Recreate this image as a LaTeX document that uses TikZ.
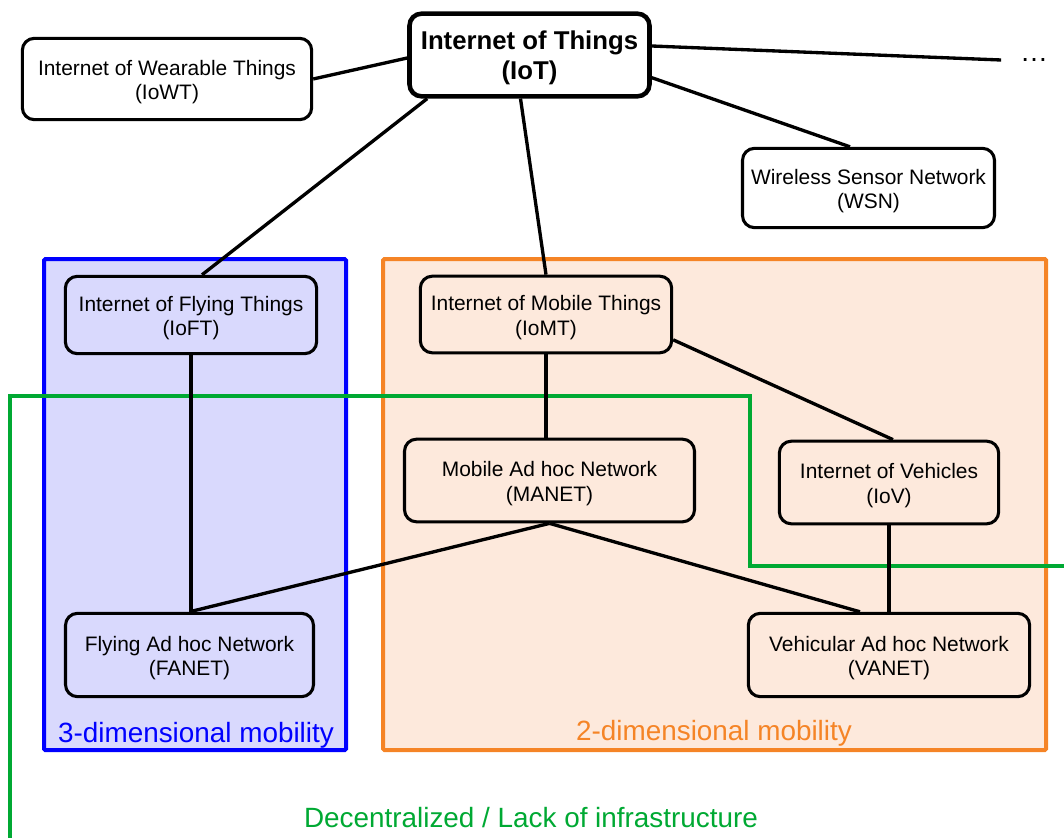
\documentclass[tikz,border=0pt]{standalone}
\usepackage{fontspec}
\setmainfont{Liberation Sans}
\definecolor{flyblue}{RGB}{0,0,255}
\definecolor{flyfill}{RGB}{217,217,253}
\definecolor{mobileorange}{RGB}{245,132,38}
\definecolor{mobilefill}{RGB}{253,233,220}
\definecolor{adhocgreen}{RGB}{0,169,51}
\tikzset{
    net/.style={draw,line width=2.3pt,rounded corners=9pt,align=center,
        font=\fontsize{15.7}{18.5}\selectfont,
        execute at begin node={\rule{0pt}{34.5pt}}},
    link/.style={line width=2.5pt},
    region/.style={font=\fontsize{20.9}{24}\selectfont}
}
\begin{document}
\begin{tikzpicture}[x=0.75pt,y=-0.75pt]
    \useasboundingbox (0,0) rectangle (1064,838);
    \draw[flyblue,fill=flyfill,line width=3pt,rounded corners=1pt] (44,259) rectangle (346,750);
    \draw[mobileorange,fill=mobilefill,line width=3pt,rounded corners=1pt] (383,259) rectangle (1046,750);
    \node[region,text=flyblue] (threed) at (196,735) {3-dimensional mobility};
    \node[region,text=mobileorange] (twod) at (714,733) {2-dimensional mobility};
    \node[region,text=adhocgreen] (decentral) at (531,818) {Decentralized / Lack of infrastructure};
    \draw[adhocgreen,line width=2.3pt] (10,838) |- (750,396) |- (1064,566);

    \node[net,line width=3.4pt,minimum width=180pt,minimum height=62pt,
        font=\fontsize{19.3}{22}\selectfont\bfseries,
        execute at begin node={\rule{0pt}{40.5pt}}] (iot) at (529.5,55) {Internet of Things\\(IoT)};
    \node[net,minimum width=217pt,minimum height=61pt] (iowt) at (167,79) {Internet of Wearable Things\\(IoWT)};
    \node[net,minimum width=189pt,minimum height=59.5pt] (wsn) at (868.5,188) {Wireless Sensor Network\\(WSN)};
    \node[font=\fontsize{21}{24}\selectfont,inner xsep=14pt] (more) at (1034,60) {\ldots};
    \node[net,minimum width=188.5pt,minimum height=58pt] (ioft) at (191,315) {Internet of Flying Things\\(IoFT)};
    \node[net,minimum width=188.5pt,minimum height=57.5pt] (iomt) at (546,314.5) {Internet of Mobile Things\\(IoMT)};
    \node[net,minimum width=217.5pt,minimum height=62pt] (manet) at (549.5,480.5) {Mobile Ad hoc Network\\(MANET)};
    \node[net,minimum width=164.5pt,minimum height=62pt] (iov) at (889,482.5) {Internet of Vehicles\\(IoV)};
    \node[net,minimum width=186pt,minimum height=62.5pt] (fanet) at (189.5,655) {Flying Ad hoc Network\\(FANET)};
    \node[net,minimum width=211pt,minimum height=62.5pt] (vanet) at (889,655) {Vehicular Ad hoc Network\\(VANET)};

    \draw[link] ([yshift=-2.25pt]iot.west) -- (iowt.east);
    \draw[link] ([xshift=15pt]iot.south west) -- ([xshift=8.25pt]ioft.north);
    \draw[link] ([xshift=-6.75pt]iot.south) -- (iomt.north);
    \draw[link] ([yshift=6.75pt]iot.east) -- (more.west);
    \draw[link] ([yshift=-17pt]iot.east) -- ([xshift=-13.9pt]wsn.north);
    \draw[link] (ioft.south) -- (ioft.south |- fanet.north);
    \draw[link] (iomt.south) -- (iomt.south |- manet.north);
    \draw[link] ([yshift=-19pt]iomt.east) -- ([xshift=3pt]iov.north);
    \draw[link] (manet.south) -- (fanet.north);
    \draw[link] (manet.south) -- ([xshift=-21.75pt]vanet.north);
    \draw[link] (iov.south) -- (iov.south |- vanet.north);
\end{tikzpicture}
\end{document}
